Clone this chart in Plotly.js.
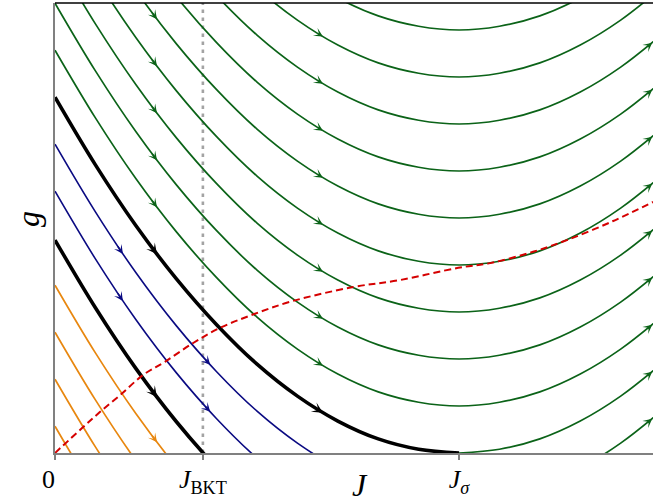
<!DOCTYPE html>
<html><head><meta charset="utf-8">
<script src="https://cdn.plot.ly/plotly-3.0.1.min.js"></script>
<style>html,body{margin:0;padding:0;background:#fff}</style>
</head><body><div id="chart" style="width:653px;height:503px"></div>
<script>
// ---- data ----
const J_full  = [0,0.1,0.2,0.3,0.4,0.5,0.6,0.7,0.8,0.9,1.0,1.1,1.2,1.3,1.4,1.5];
const J_left  = [0,0.1,0.2,0.3,0.4,0.5,0.6,0.7,0.8,0.9,1.0];
const J_right = [1.0,1.1,1.2,1.3,1.4,1.5];

// flows above the upper separatrix (green)
const g_k9 = [16.57,15.13,13.84,12.71,11.73,10.89,10.21,9.68,9.30,9.08,9.00,9.08,9.30,9.68,10.21,10.89];
const g_k8 = [15.57,14.13,12.84,11.71,10.73,9.89,9.21,8.68,8.30,8.08,8.00,8.08,8.30,8.68,9.21,9.89];
const g_k7 = [14.57,13.13,11.84,10.71,9.73,8.89,8.21,7.68,7.30,7.08,7.00,7.08,7.30,7.68,8.21,8.89];
const g_k6 = [13.57,12.13,10.84,9.71,8.73,7.89,7.21,6.68,6.30,6.08,6.00,6.08,6.30,6.68,7.21,7.89];
const g_k5 = [12.57,11.13,9.84,8.71,7.73,6.89,6.21,5.68,5.30,5.08,5.00,5.08,5.30,5.68,6.21,6.89];
const g_k4 = [11.57,10.13,8.84,7.71,6.73,5.89,5.21,4.68,4.30,4.08,4.00,4.08,4.30,4.68,5.21,5.89];
const g_k3 = [10.57,9.13,7.84,6.71,5.73,4.89,4.21,3.68,3.30,3.08,3.00,3.08,3.30,3.68,4.21,4.89];
const g_k2 = [9.57,8.13,6.84,5.71,4.73,3.89,3.21,2.68,2.30,2.08,2.00,2.08,2.30,2.68,3.21,3.89];
const g_k1 = [8.57,7.13,5.84,4.71,3.73,2.89,2.21,1.68,1.30,1.08,1.00,1.08,1.30,1.68,2.21,2.89];
// upper separatrix: black left branch, green right branch
const g_sepUpperLeft  = [7.57,6.13,4.84,3.71,2.73,1.89,1.21,0.68,0.30,0.08,0.00];
const g_sepUpperRight = [0.00,0.08,0.30,0.68,1.21,1.89];
// blue flows
const J_blue1 = [0,0.1,0.2,0.3,0.4,0.5,0.6,0.7,0.8];
const g_blue1 = [6.57,5.13,3.84,2.71,1.73,0.89,0.21,-0.32,-0.70];
const J_blue1R = [1.2,1.3,1.4,1.5];
const g_blue1R = [-0.70,-0.32,0.21,0.89];
const J_blue2 = [0,0.1,0.2,0.3,0.4,0.5,0.6];
const g_blue2 = [5.57,4.13,2.84,1.71,0.73,-0.11,-0.79];
// lower separatrix (ends at J_BKT)
const J_sepLower = [0,0.1,0.2,0.3,0.4,0.5];
const g_sepLower = [4.53,3.09,1.80,0.67,-0.31,-1.15];
// orange flows
const J_or1 = [0,0.1,0.2,0.3,0.4];
const g_or1 = [3.57,2.13,0.84,-0.29,-1.27];
const J_or2 = [0,0.1,0.2,0.3];
const g_or2 = [2.57,1.13,-0.16,-1.29];
const J_or3 = [0,0.1,0.2];
const g_or3 = [1.57,0.13,-1.16];
const J_or4 = [0,0.1,0.2];
const g_or4 = [0.57,-0.87,-2.16];
// red dashed curve
const J_red = [0,0.067,0.111,0.161,0.218,0.272,0.342,0.408,0.488,0.587,0.738,0.854,0.998,1.077,1.183,1.267,1.38,1.48];
const g_red = [0,0.53,0.87,1.23,1.66,1.94,2.34,2.66,2.94,3.23,3.53,3.68,3.94,4.04,4.28,4.53,4.93,5.34];

// arrow locations (J values along each curve)
const arrowsA = [0.2525, 0.663, 1.478];
const arrowsMid = [0.663, 1.478];
const arrowsTop = [0.663];
const arrowsSepUpper = [0.2525, 0.663];
const arrowsRightEdge = [1.478];
const arrowsBlue = [0.168, 0.384];
const arrowsLowerSep = [0.2525];
const arrowsOrange = [0.2525];

// ticks
const J_BKT = 0.366, J_sigma = 1.0;
const tickVals = [0, J_BKT, J_sigma];
const tickText = ['0\u00a0\u00a0', '<i>J</i><sub>BKT</sub>', '<i>J</i><sub><i>σ</i></sub>'];
const J_max = 1.48, g_max = 9.574;

// ---- styles ----
const GREEN = '#0b6318', BLUE = '#0a0a82', ORANGE = '#e8870f', BLACK = '#000000', RED = '#d50000';

const curves = [
  {x: J_full, y: g_k9, c: GREEN, w: 1.7, arrows: []},
  {x: J_full, y: g_k8, c: GREEN, w: 1.7, arrows: arrowsTop},
  {x: J_full, y: g_k7, c: GREEN, w: 1.7, arrows: arrowsMid},
  {x: J_full, y: g_k6, c: GREEN, w: 1.7, arrows: arrowsMid},
  {x: J_full, y: g_k5, c: GREEN, w: 1.7, arrows: arrowsA},
  {x: J_full, y: g_k4, c: GREEN, w: 1.7, arrows: arrowsA},
  {x: J_full, y: g_k3, c: GREEN, w: 1.7, arrows: arrowsA},
  {x: J_full, y: g_k2, c: GREEN, w: 1.7, arrows: arrowsA},
  {x: J_full, y: g_k1, c: GREEN, w: 1.7, arrows: arrowsA},
  {x: J_right, y: g_sepUpperRight, c: GREEN, w: 1.7, arrows: arrowsRightEdge},
  {x: J_blue1R, y: g_blue1R, c: GREEN, w: 1.7, arrows: arrowsRightEdge},
  {x: J_blue1, y: g_blue1, c: BLUE, w: 1.6, arrows: arrowsBlue},
  {x: J_blue2, y: g_blue2, c: BLUE, w: 1.6, arrows: arrowsBlue},
  {x: J_or1, y: g_or1, c: ORANGE, w: 1.7, arrows: arrowsOrange},
  {x: J_or2, y: g_or2, c: ORANGE, w: 1.7, arrows: []},
  {x: J_or3, y: g_or3, c: ORANGE, w: 1.7, arrows: []},
  {x: J_or4, y: g_or4, c: ORANGE, w: 1.7, arrows: []},
  {x: J_left, y: g_sepUpperLeft, c: BLACK, w: 3.6, arrows: arrowsSepUpper},
  {x: J_sepLower, y: g_sepLower, c: BLACK, w: 3.6, arrows: arrowsLowerSep}
];

function gAt(xs, ys, x) {
  let i = 0, best = Infinity;
  for (let k = 0; k < xs.length; k++) { const d = Math.abs(xs[k] - x); if (d < best) { best = d; i = k; } }
  i = Math.max(1, Math.min(xs.length - 2, i));
  const x0 = xs[i-1], x1 = xs[i], x2 = xs[i+1];
  const y0 = ys[i-1], y1 = ys[i], y2 = ys[i+1];
  return y0*(x-x1)*(x-x2)/((x0-x1)*(x0-x2)) + y1*(x-x0)*(x-x2)/((x1-x0)*(x1-x2)) + y2*(x-x0)*(x-x1)/((x2-x0)*(x2-x1));
}

const traces = [];
traces.push({x: [J_BKT, J_BKT], y: [0, g_max], mode: 'lines', hoverinfo: 'skip', showlegend: false,
  line: {color: '#a3a3a3', width: 2.6, dash: '3.5px,4.5px'}});
const annotations = [];
curves.forEach(cv => {
  traces.push({x: cv.x, y: cv.y, mode: 'lines', showlegend: false, hoverinfo: 'skip',
    line: {color: cv.c, width: cv.w, shape: 'spline', smoothing: 1}});
  cv.arrows.forEach(J => {
    const isBlack = cv.c === BLACK;
    annotations.push({x: J, y: gAt(cv.x, cv.y, J), ax: J - 0.015, ay: gAt(cv.x, cv.y, J - 0.015),
      xref: 'x', yref: 'y', axref: 'x', ayref: 'y', text: '', showarrow: true,
      arrowhead: 3, arrowsize: isBlack ? 0.9 : 1.0, arrowwidth: isBlack ? 2 : 1.5,
      arrowcolor: cv.c, standoff: 0, startstandoff: 0});
  });
});
traces.push({x: J_red, y: g_red, mode: 'lines', showlegend: false, hoverinfo: 'skip',
  line: {color: RED, width: 2, dash: '7px,4px', shape: 'spline', smoothing: 1}});

annotations.push({xref: 'paper', yref: 'paper', x: 0.510, y: -0.0711, text: '<i>J</i>', showarrow: false,
  xanchor: 'center', yanchor: 'middle', font: {family: 'Liberation Serif', size: 32, color: '#000'}});
annotations.push({xref: 'paper', yref: 'paper', x: -0.045, y: 0.52, text: '<i>g</i>', showarrow: false, textangle: -90,
  xanchor: 'center', yanchor: 'middle', font: {family: 'Liberation Serif', size: 32, color: '#000'}});

const layout = {
  width: 653, height: 503,
  margin: {l: 55, r: 0, t: 3, b: 50},
  paper_bgcolor: '#fff', plot_bgcolor: '#fff',
  showlegend: false,
  xaxis: {range: [0, J_max], tickvals: tickVals, ticktext: tickText, ticks: 'outside', ticklen: 5,
    tickcolor: '#808080', tickwidth: 1.5, showline: true, linecolor: '#808080', linewidth: 2,
    showgrid: false, zeroline: false, ticklabelstandoff: -3,
    tickfont: {family: 'Liberation Serif', size: 26, color: '#000'}},
  yaxis: {range: [0, g_max], showticklabels: false, ticks: '', showline: true, linecolor: '#808080', linewidth: 2,
    showgrid: false, zeroline: false},
  shapes: [{type: 'line', xref: 'paper', yref: 'paper', x0: 0, x1: 1, y0: 1, y1: 1, line: {color: '#000', width: 1.5}}],
  annotations: annotations
};
Plotly.newPlot('chart', traces, layout, {displayModeBar: false, staticPlot: true});
</script></body></html>
